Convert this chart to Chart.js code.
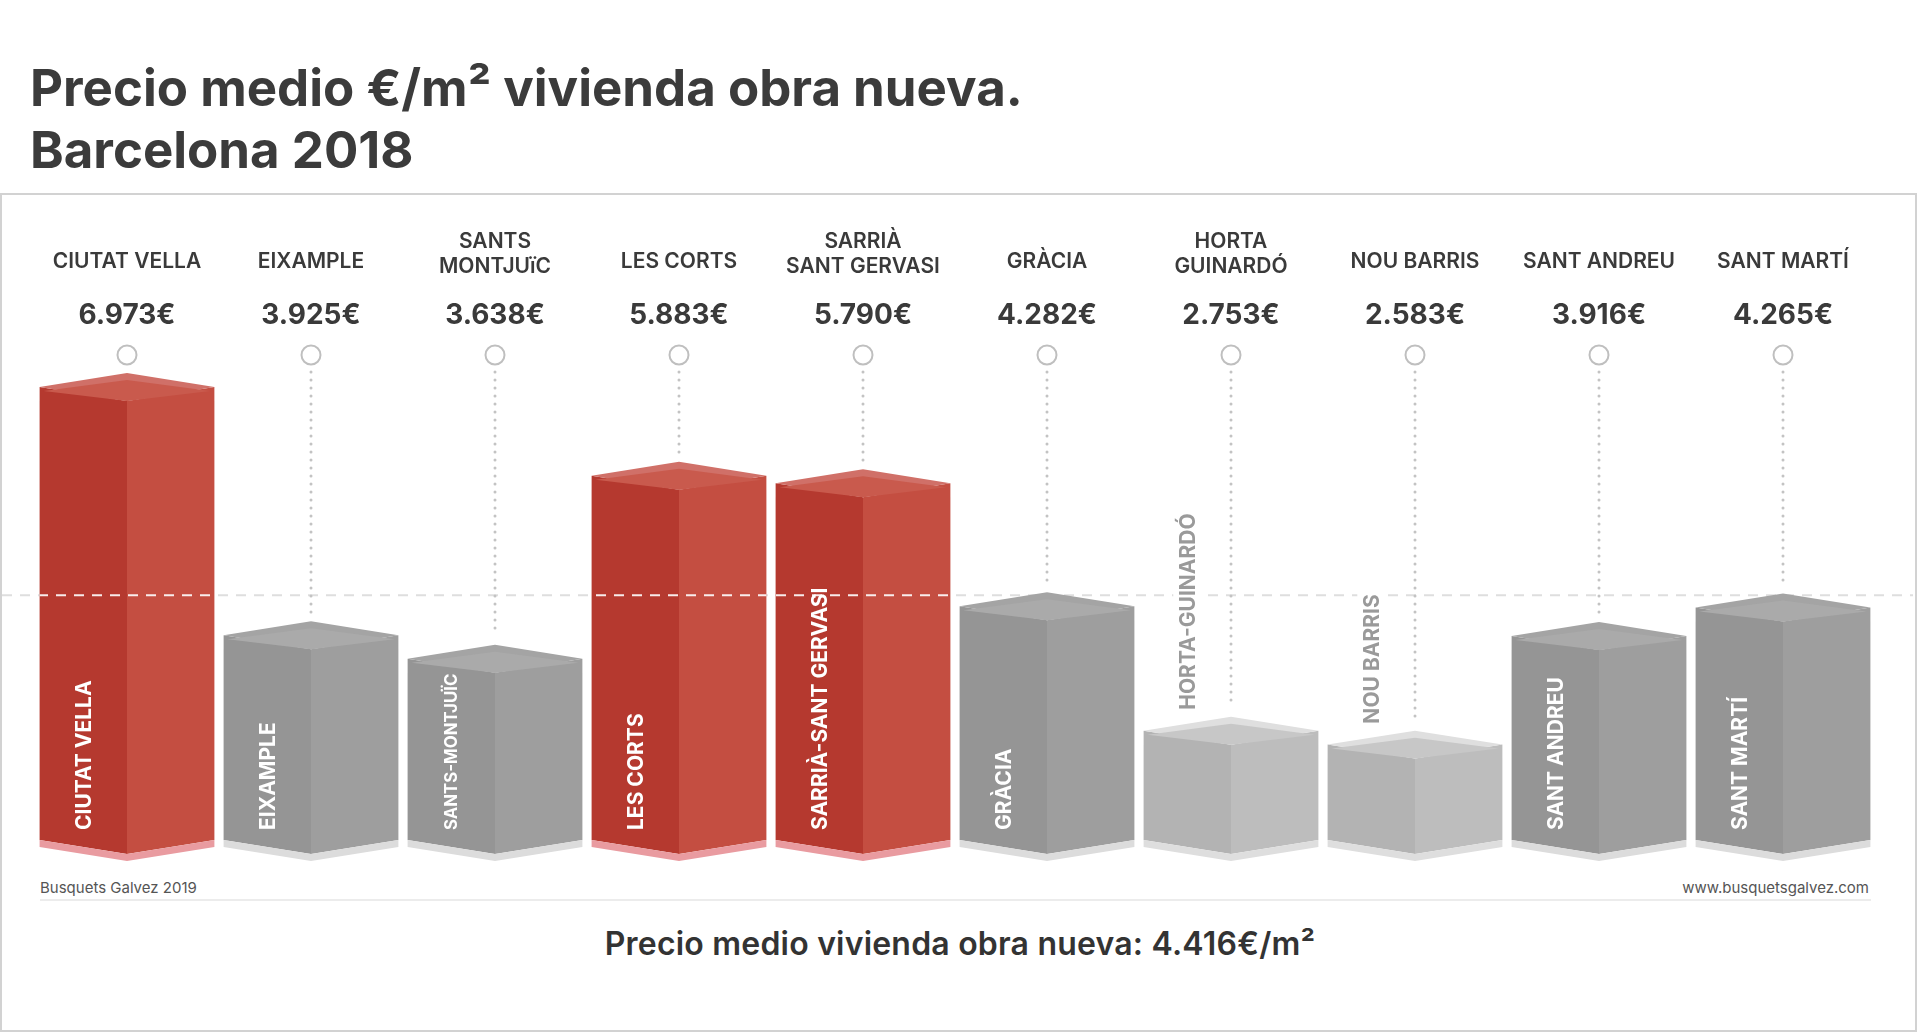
<!DOCTYPE html>
<html>
<head>
<meta charset="utf-8">
<title>Precio medio €/m² vivienda obra nueva. Barcelona 2018</title>
<script src="https://cdn.jsdelivr.net/npm/chart.js@4.4.0/dist/chart.umd.min.js"></script>
<style>
    html, body {
        margin: 0;
        padding: 0;
        width: 1920px;
        height: 1032px;
        overflow: hidden;
        background: #fff;
        font-family: Inter, "Open Sans", sans-serif;
        color: #3a3a3a;
    }
    .title {
        position: absolute;
        left: 30px;
        font-size: 51px;
        font-weight: 700;
        line-height: 51px;
        white-space: nowrap;
        color: #3b3b3b;
    }
    #frame {
        position: absolute;
        left: 0;
        top: 193px;
        width: 1917px;
        height: 839px;
        box-sizing: border-box;
        border: 2px solid #d2d2d2;
    }
    .credit {
        position: absolute;
        top: 879px;
        font-size: 15px;
        line-height: 18px;
        color: #555;
    }
    #rule {
        position: absolute;
        left: 40px;
        top: 899px;
        width: 1831px;
        height: 2px;
        background: #ececec;
    }
    #average {
        position: absolute;
        left: 0;
        width: 1920px;
        top: 928px;
        text-align: center;
        font-size: 32px;
        font-weight: 600;
        line-height: 32px;
        letter-spacing: 0.2px;
        color: #333;
    }
    #wrap {
        position: absolute;
        left: 0;
        top: 0;
        width: 1920px;
        height: 1032px;
    }
</style>
</head>
<body>
<div class="title" style="top:62px">Precio medio €/m² vivienda obra nueva.</div>
<div class="title" style="top:124px">Barcelona 2018</div>
<div id="frame"></div>
<div class="credit" style="left:40px">Busquets Galvez 2019</div>
<div class="credit" style="right:51px">www.busquetsgalvez.com</div>
<div id="rule"></div>
<div id="average">Precio medio vivienda obra nueva: 4.416€/m²</div>
<div id="wrap"><canvas id="chart"></canvas></div>

<script>
// data
const districts = ['CIUTAT VELLA', 'EIXAMPLE', 'SANTS-MONTJUÏC', 'LES CORTS', 'SARRIÀ-SANT GERVASI',
    'GRÀCIA', 'HORTA-GUINARDÓ', 'NOU BARRIS', 'SANT ANDREU', 'SANT MARTÍ'];
const headings = [['CIUTAT VELLA'], ['EIXAMPLE'], ['SANTS', 'MONTJUïC'], ['LES CORTS'], ['SARRIÀ', 'SANT GERVASI'],
    ['GRÀCIA'], ['HORTA', 'GUINARDÓ'], ['NOU BARRIS'], ['SANT ANDREU'], ['SANT MARTÍ']];
const prices = [6973, 3925, 3638, 5883, 5790, 4282, 2753, 2583, 3916, 4265];
const tones = ['red', 'gray', 'gray', 'red', 'red', 'gray', 'light', 'light', 'gray', 'gray'];
const averagePrice = 4416;
const axisMin = 1400;
const axisMax = 7500;

const palette = {
    red:   { left: '#b5392f', right: '#c44e41', band: '#d07068', cap: '#c95a4d', foot: '#e99ba0' },
    gray:  { left: '#959595', right: '#9e9e9e', band: '#a4a4a4', cap: '#aaaaaa', foot: '#dcdcdc' },
    light: { left: '#b3b3b3', right: '#bdbdbd', band: '#dfdfdf', cap: '#c7c7c7', foot: '#dedede' }
};

const euro = v => String(v).replace(/\B(?=(\d{3})+(?!\d))/g, '.') + '€';

function poly(ctx, pts, fill) {
    ctx.beginPath();
    ctx.moveTo(pts[0][0], pts[0][1]);
    for (let i = 1; i < pts.length; i++) ctx.lineTo(pts[i][0], pts[i][1]);
    ctx.closePath();
    ctx.fillStyle = fill;
    ctx.fill();
}

function geom(bar) {
    const half = bar.width / 2;
    return { L: bar.x - half, C: bar.x, R: bar.x + half, top: bar.y, base: bar.base - 1, d: bar.width * 0.08 };
}

const blockPlugin = {
    id: 'blocks',
    beforeDatasetsDraw(chart) {
        const ctx = chart.ctx;
        const y = chart.scales.y.getPixelForValue(averagePrice);
        ctx.save();
        ctx.strokeStyle = '#dedede';
        ctx.lineWidth = 2;
        ctx.setLineDash([10, 8]);
        ctx.beginPath();
        ctx.moveTo(2, y);
        ctx.lineTo(1913, y);
        ctx.stroke();
        ctx.restore();
    },
    afterDatasetsDraw(chart) {
        const ctx = chart.ctx;
        const bars = chart.getDatasetMeta(0).data;
        const avgY = chart.scales.y.getPixelForValue(averagePrice);
        ctx.save();

        bars.forEach((bar, i) => {
            const c = palette[tones[i]];
            const { L, C, R, top, base, d } = geom(bar);
            poly(ctx, [[L, top], [C, top + d], [C, base + d], [L, base]], c.left);
            poly(ctx, [[C, top + d], [R, top], [R, base], [C, base + d]], c.right);
            poly(ctx, [[L, top], [C, top - d], [R, top], [C, top + d]], c.band);
            poly(ctx, [[L + 4, top + 4], [C, top - d + 7], [R - 4, top + 4], [C, top + d]], c.cap);
            poly(ctx, [[L, base], [C, base + d], [R, base], [R, base + 7], [C, base + d + 7], [L, base + 7]], c.foot);
        });

        // average line shows white across the faces of the taller blocks
        ctx.save();
        ctx.beginPath();
        bars.forEach(bar => {
            const g = geom(bar);
            if (g.top + g.d < avgY) ctx.rect(g.L, g.top + g.d, g.R - g.L, g.base - g.top);
        });
        ctx.clip();
        ctx.strokeStyle = 'rgba(255,255,255,0.9)';
        ctx.lineWidth = 2;
        ctx.setLineDash([10, 8]);
        ctx.beginPath();
        ctx.moveTo(2, avgY);
        ctx.lineTo(1913, avgY);
        ctx.stroke();
        ctx.restore();

        bars.forEach((bar, i) => {
            const g = geom(bar);
            const cx = bar.x;

            // heading, price and marker
            ctx.fillStyle = '#3a3a3a';
            ctx.textAlign = 'center';
            ctx.textBaseline = 'alphabetic';
            ctx.font = '600 21px Inter, sans-serif';
            const lines = headings[i];
            if (lines.length === 1) {
                ctx.fillText(lines[0], cx, 268);
            } else {
                ctx.fillText(lines[0], cx, 248);
                ctx.fillText(lines[1], cx, 273);
            }
            ctx.font = '700 28px Inter, sans-serif';
            ctx.fillText(euro(prices[i]), cx, 324);

            ctx.setLineDash([]);
            ctx.strokeStyle = '#bfbfbf';
            ctx.lineWidth = 2;
            ctx.beginPath();
            ctx.arc(cx, 355, 9.5, 0, Math.PI * 2);
            ctx.stroke();

            ctx.fillStyle = '#c3c3c3';
            for (let y = 372; y < g.top - g.d - 9; y += 8) {
                ctx.beginPath();
                ctx.arc(cx, y, 1.5, 0, Math.PI * 2);
                ctx.fill();
            }

            // district name, upright inside the left face, above the low light blocks
            const lx = (g.L + g.C) / 2;
            const outside = tones[i] === 'light';
            let size = 21;
            ctx.font = '700 ' + size + 'px Inter, sans-serif';
            let w = ctx.measureText(districts[i]).width;
            let bottom = g.base - 10;
            if (outside) {
                bottom = g.top - g.d - 7;
            } else {
                const room = bottom - (g.top + g.d / 2 + 8);
                if (w > room) {
                    size = Math.max(15, size * room / w);
                    ctx.font = '700 ' + size.toFixed(1) + 'px Inter, sans-serif';
                    w = ctx.measureText(districts[i]).width;
                }
            }
            ctx.save();
            ctx.translate(lx, bottom);
            ctx.rotate(-Math.PI / 2);
            ctx.textAlign = 'left';
            ctx.textBaseline = 'middle';
            if (outside) {
                ctx.fillStyle = '#fff';
                ctx.fillRect(-4, -14, w + 8, 28);
            }
            ctx.fillStyle = outside ? '#9a9a9a' : '#fff';
            ctx.fillText(districts[i], 0, 1);
            ctx.restore();
        });

        ctx.restore();
    }
};

new Chart(document.getElementById('chart'), {
    type: 'bar',
    data: {
        labels: districts,
        datasets: [{
            label: 'Precio medio €/m²',
            data: prices,
            base: axisMin,
            backgroundColor: 'rgba(0,0,0,0)',
            borderWidth: 0,
            categoryPercentage: 1,
            barPercentage: 0.95
        }]
    },
    options: {
        responsive: true,
        maintainAspectRatio: false,
        animation: false,
        layout: {
            padding: { left: 35, right: 45, top: 344, bottom: 191 }
        },
        plugins: {
            legend: { display: false },
            tooltip: { enabled: false }
        },
        scales: {
            x: { display: false },
            y: { display: false, min: axisMin, max: axisMax }
        }
    },
    plugins: [blockPlugin]
});
</script>
</body>
</html>
